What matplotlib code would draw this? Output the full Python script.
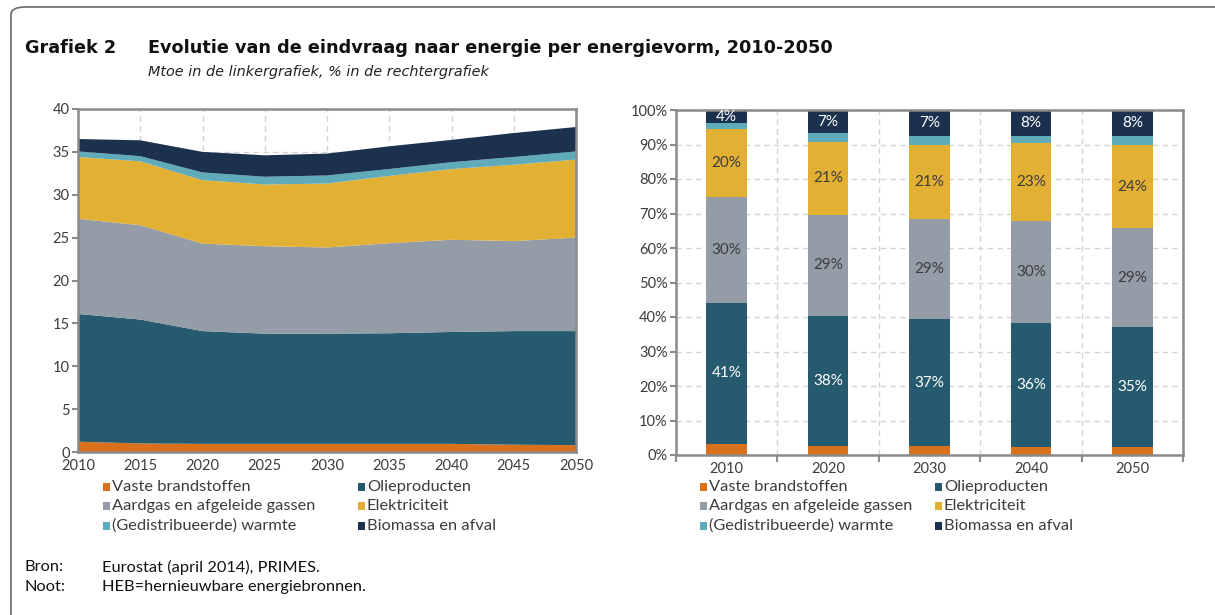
import numpy as np
import matplotlib
matplotlib.use("Agg")
import matplotlib.pyplot as plt
from matplotlib.patches import Rectangle, FancyBboxPatch

# ---- data -------------------------------------------------------------
series = ["Vaste brandstoffen", "Olieproducten", "Aardgas en afgeleide gassen",
          "Elektriciteit", "(Gedistribueerde) warmte", "Biomassa en afval"]
colors = ["#D9711C", "#265B6F", "#939CA7", "#E2B033", "#5FABBA", "#1B314D"]

years = [2010, 2015, 2020, 2025, 2030, 2035, 2040, 2045, 2050]
vaste = [1.2, 1.0, 0.95, 0.95, 0.95, 0.95, 0.95, 0.85, 0.8]
olie = [14.9, 14.45, 13.15, 12.85, 12.85, 12.9, 13.05, 13.25, 13.3]
aardgas = [11.1, 11.0, 10.2, 10.2, 10.05, 10.5, 10.75, 10.5, 10.9]
elek = [7.2, 7.45, 7.4, 7.2, 7.45, 7.85, 8.25, 8.9, 9.1]
warmte = [0.65, 0.6, 0.9, 0.9, 0.95, 0.8, 0.8, 0.9, 0.95]
biomassa = [1.45, 1.85, 2.4, 2.5, 2.55, 2.65, 2.6, 2.8, 2.85]

bar_years = ["2010", "2020", "2030", "2040", "2050"]
pct_vaste = [3.2, 2.7, 2.5, 2.4, 2.2]
pct_olie = [41.0, 37.6, 36.9, 35.8, 34.9]
pct_aardgas = [30.5, 29.4, 29.1, 29.6, 28.6]
pct_elek = [19.7, 21.0, 21.3, 22.6, 24.2]
pct_warmte = [1.8, 2.6, 2.8, 2.0, 2.5]
pct_biomassa = [3.8, 6.7, 7.4, 7.6, 7.6]

# ---- style ------------------------------------------------------------
BODY = "Lato"
SPINE = "#8a8a8a"
GRID = "#d4d4d4"
TXT = "#3c3c3c"
plt.rcParams["font.family"] = [BODY, "DejaVu Sans"]

W, H = 1215, 615
fig = plt.figure(figsize=(W / 100, H / 100), dpi=100)


def fx(px):
    return px / W


def fy(py):
    return 1 - py / H


# outer frame (only top/left visible)
fig.patches.append(FancyBboxPatch((fx(11), fy(640)), fx(1240), fy(7) - fy(640),
                                  boxstyle="round,pad=0,rounding_size=0.012",
                                  transform=fig.transFigure, fill=False,
                                  edgecolor="#6a6a6a", lw=1.2))

# titles
fig.text(fx(25), fy(48), "Grafiek 2", fontsize=12.7, fontweight="bold",
         family="DejaVu Sans", va="center", color="#111111")
fig.text(fx(148), fy(48), "Evolutie van de eindvraag naar energie per energievorm, 2010-2050",
         fontsize=12.7, fontweight="bold", family="DejaVu Sans", va="center", color="#111111")
fig.text(fx(148), fy(72), "Mtoe in de linkergrafiek, % in de rechtergrafiek",
         fontsize=10.4, style="italic", family="DejaVu Sans", va="center", color="#222222")


def style_axes(ax):
    for s in ax.spines.values():
        s.set_color(SPINE)
        s.set_linewidth(1.8)
    ax.tick_params(colors=SPINE, labelcolor=TXT, labelsize=10.5)
    ax.set_axisbelow(True)


# ---- left: stacked area ----------------------------------------------
axl = fig.add_axes([fx(78), fy(452), fx(576) - fx(78), fy(109) - fy(452)])
style_axes(axl)
axl.stackplot(years, vaste, olie, aardgas, elek, warmte, biomassa,
              colors=colors, lw=0, zorder=2)
axl.set_xlim(2010, 2050)
axl.set_ylim(0, 40)
axl.set_xticks(years)
axl.set_yticks(np.arange(0, 41, 5))
axl.tick_params(axis="x", length=0, pad=5)
axl.tick_params(axis="y", length=4, width=1.5, pad=2)
axl.grid(True, ls=(0, (4, 3)), color=GRID, lw=1)

# ---- right: 100% stacked bars ----------------------------------------
axr = fig.add_axes([fx(676), fy(455), fx(1183) - fx(676), fy(110) - fy(455)])
style_axes(axr)
pos = np.arange(len(bar_years))
pct_series = [pct_vaste, pct_olie, pct_aardgas, pct_elek, pct_warmte, pct_biomassa]
label_colors = [None, "white", TXT, TXT, None, "white"]
bottom = np.zeros(len(pos))
for vals, col, lc in zip(pct_series, colors, label_colors):
    vals = np.array(vals)
    axr.bar(pos, vals, 0.4, bottom=bottom, color=col, lw=0, zorder=2)
    if lc is not None:
        for x, b, v in zip(pos, bottom, vals):
            axr.text(x, b + v / 2, f"{v:.0f}%", ha="center", va="center",
                     color=lc, fontsize=11, zorder=3)
    bottom += vals
axr.set_xlim(-0.5, len(pos) - 0.5)
axr.set_ylim(0, 100)
axr.set_xticks(pos)
axr.set_xticklabels(bar_years)
axr.set_xticks(np.arange(-0.5, len(pos), 1), minor=True)
axr.set_yticks(np.arange(0, 101, 10))
axr.set_yticklabels([f"{v}%" for v in range(0, 101, 10)])
axr.tick_params(axis="x", which="major", length=0, pad=5)
axr.tick_params(axis="x", which="minor", length=5, width=1.5, color=SPINE)
axr.tick_params(axis="y", length=4, width=1.5, pad=2)
axr.grid(True, axis="y", ls=(0, (4, 3)), color=GRID, lw=1)
axr.grid(True, axis="x", which="minor", ls=(0, (4, 3)), color=GRID, lw=1)


# ---- legends ----------------------------------------------------------
def legend(x_cols, rows_y):
    for i, (name, col) in enumerate(zip(series, colors)):
        r, c = divmod(i, 2)
        x0, y0 = x_cols[c], rows_y[r]
        fig.patches.append(Rectangle((fx(x0), fy(y0 + 4)), fx(7), fy(0) - fy(8),
                                     transform=fig.transFigure, color=col, lw=0))
        fig.text(fx(x0 + 9), fy(y0), name, fontsize=11.8, va="center", color=TXT)


legend([103, 358], [487, 506, 526])
legend([700, 935], [487, 506, 526])

# ---- footer -----------------------------------------------------------
fig.text(fx(25), fy(567), "Bron:", fontsize=11.8, va="center", color="#111111")
fig.text(fx(102), fy(567), "Eurostat (april 2014), PRIMES.", fontsize=11.8, va="center", color="#111111")
fig.text(fx(25), fy(587), "Noot:", fontsize=11.8, va="center", color="#111111")
fig.text(fx(102), fy(587), "HEB=hernieuwbare energiebronnen.", fontsize=11.8, va="center", color="#111111")

fig.savefig("out.png", dpi=100)
